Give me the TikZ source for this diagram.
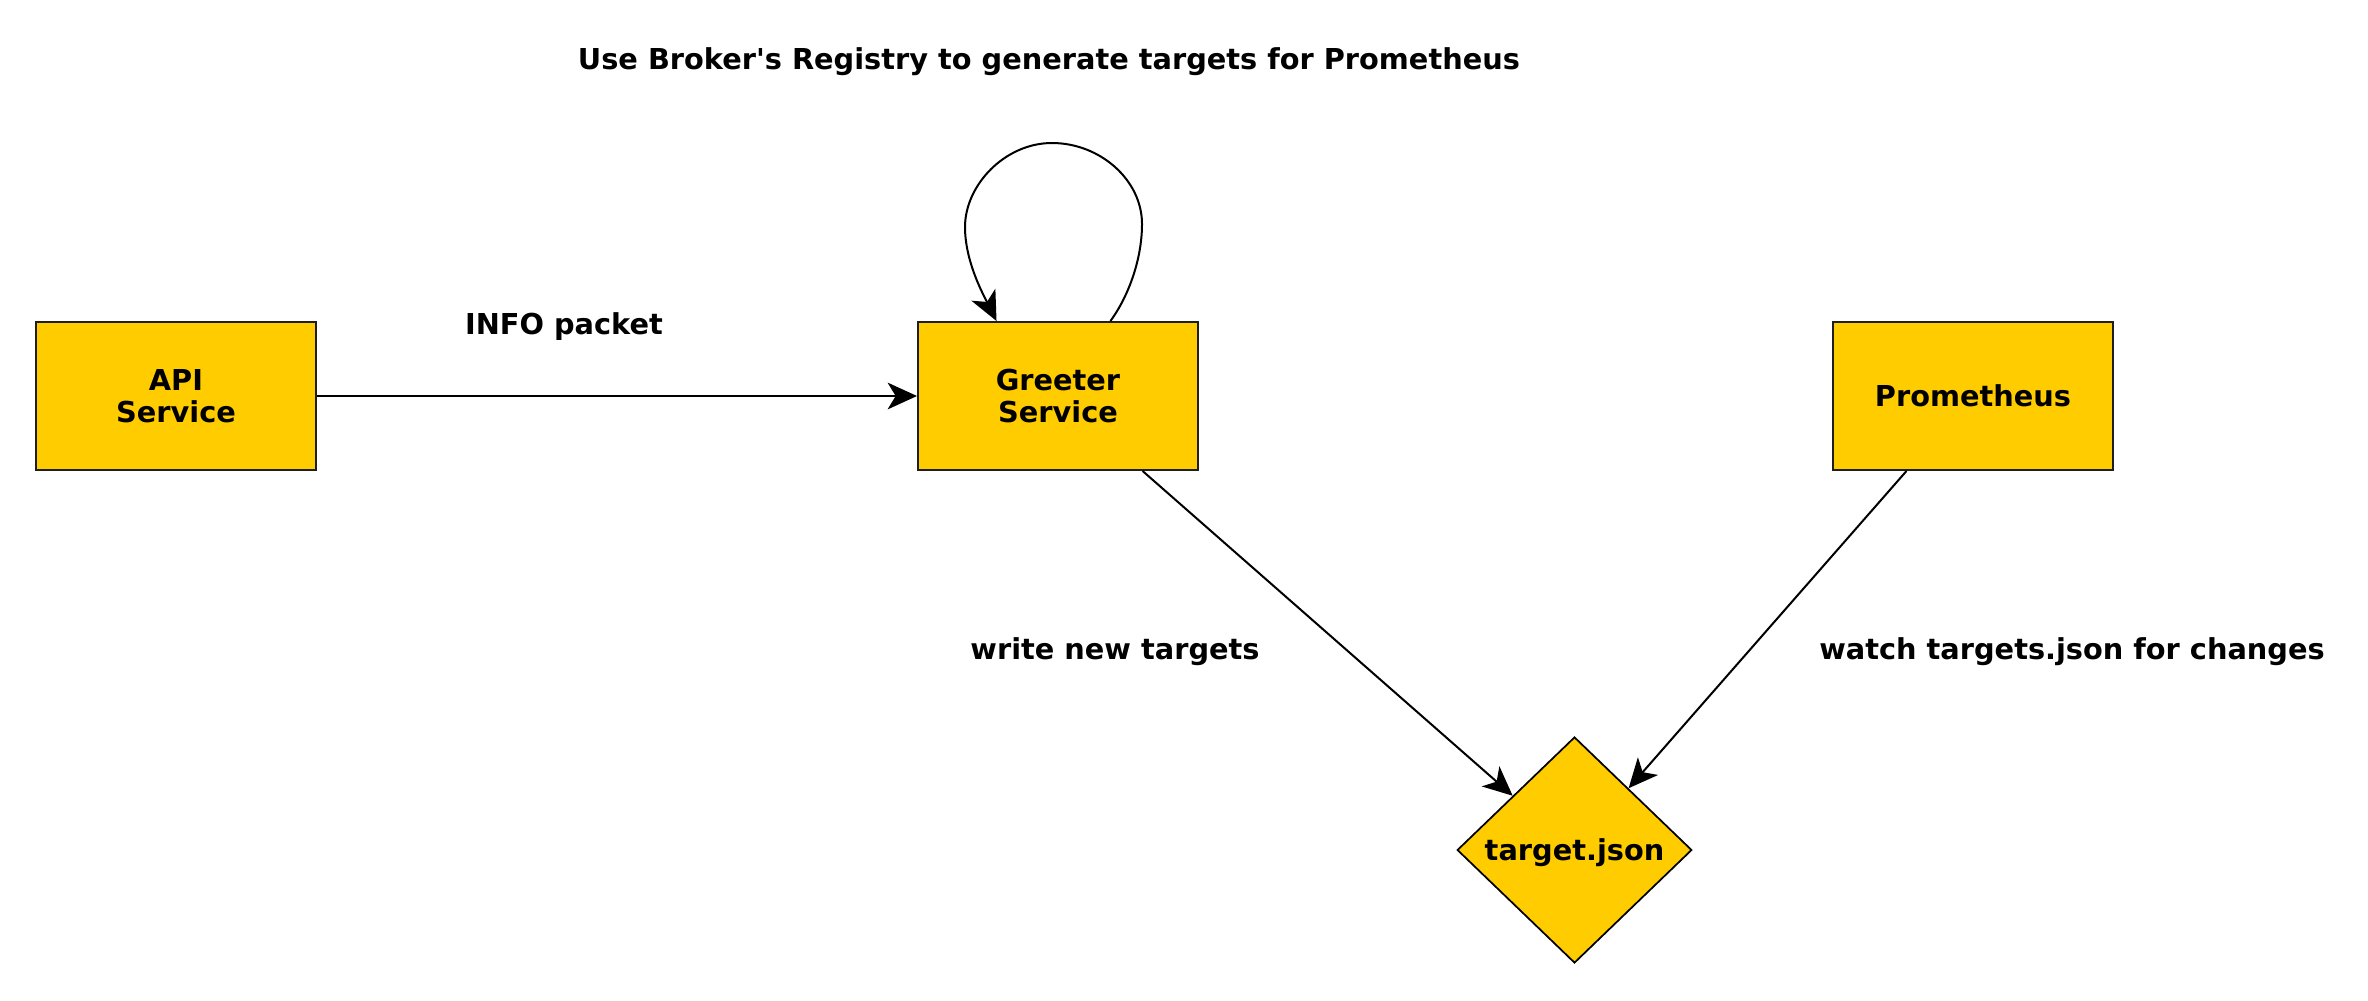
\documentclass[tikz,border=0pt]{standalone}
\usepackage{fontspec}
\setmainfont{DejaVu Sans}[Ligatures=TeXOff]
\usetikzlibrary{arrows.meta,shapes.geometric,calc}
\definecolor{boxyellow}{RGB}{255,204,0}
\definecolor{edgegray}{RGB}{30,30,30}
\tikzset{
  svcbox/.style={draw=edgegray,fill=boxyellow,line width=1.5pt,minimum width=210pt,minimum height=111pt,inner sep=0pt,align=center},
  filebox/.style={diamond,draw=black,fill=boxyellow,line width=1.3pt,minimum width=176pt,minimum height=169.5pt,inner sep=0pt,text depth=0pt},
  conn/.style={draw=black,line width=1.5pt,-{Stealth[length=22pt,width=20pt,inset=6pt]}},
  lbl/.style={anchor=base,inner sep=0pt}
}
\begin{document}
\begin{tikzpicture}[x=0.75pt,y=-0.75pt,font=\fontsize{21.6}{24}\selectfont\bfseries]
\useasboundingbox (0,0) rectangle (2368,1000);
\node[svcbox] (api) at (176,396) {API\\Service};
\node[svcbox] (gs) at (1058,396) {Greeter\\Service};
\node[svcbox] (pr) at (1973,396) {Prometheus};
\node[filebox] (tj) at (1574.5,850) {target.json};
\node[lbl] (title) at (1049,69) {Use Broker's Registry to generate targets for Prometheus};
\node[lbl] (info) at (564,334) {INFO packet};
\node[lbl] (wnt) at (1115,659) {write new targets};
\node[lbl] (wtj) at (2072,659) {watch targets.json for changes};
\coordinate (ls) at ($(gs.north west)!0.686!(gs.north east)$);
\coordinate (le) at ($(gs.north west)!0.282!(gs.north east)$);
\coordinate (gsb) at ($(gs.south west)!0.8!(gs.south east)$);
\coordinate (prb) at ($(pr.south west)!0.264!(pr.south east)$);
\draw[conn,line width=1.7pt] (api) -- (gs);
\draw[conn] (ls) .. controls (1128,297) and (1142,260) .. (1142,224)
  .. controls (1142,180) and (1100,143) .. (1052,143)
  .. controls (1005,143) and (965,185) .. (965,227)
  .. controls (965,262) and (984,296) .. (le);
\draw[conn] (gsb) -- (tj);
\draw[conn] (prb) -- (tj);
\end{tikzpicture}
\end{document}
